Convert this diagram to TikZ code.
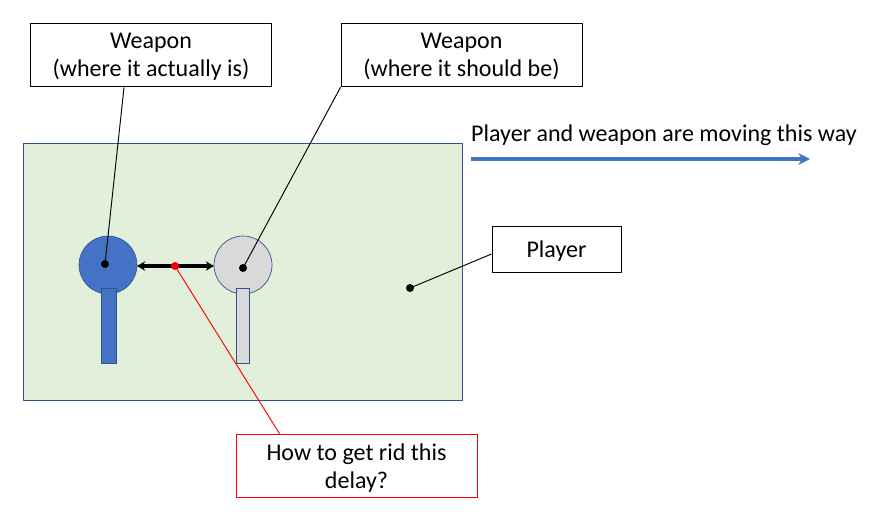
\documentclass[tikz,border=0pt]{standalone}
\usepackage{fontspec}
\setmainfont{Carlito}
\usetikzlibrary{arrows.meta}
\definecolor{bodygreen}{RGB}{226,239,218}
\definecolor{edgeblue}{RGB}{47,82,143}
\definecolor{weaponblue}{RGB}{68,114,196}
\definecolor{ghostgray}{RGB}{217,217,217}
\tikzset{
	labelbox/.style={draw=black,fill=white,line width=0.8pt,minimum width=7.23cm,minimum height=1.91cm,align=center,inner sep=0pt,text depth=0pt},
	marker/.style={circle,fill=#1,inner sep=0pt,minimum size=0.24cm},
	marker/.default=black
}
\begin{document}
\begin{tikzpicture}[x=0.03cm,y=-0.03cm,font=\fontsize{20.5pt}{23.5pt}\selectfont,line join=round,>=stealth]
			\useasboundingbox (0,0) rectangle (881,522);
			
			% player body
			\draw[edgeblue,fill=bodygreen,line width=0.7pt] (23,143) rectangle (462,400);
			
			% weapon, actual and expected place
			\draw[edgeblue,fill=weaponblue,line width=0.5pt] (108,265) circle (29);
			\draw[edgeblue,fill=weaponblue,line width=0.8pt] (101,288) rectangle (116,363);
			\draw[edgeblue,fill=ghostgray,line width=0.6pt] (243,265) circle (29);
			\draw[edgeblue,fill=ghostgray,line width=0.8pt] (236,288) rectangle (249,363);
			
			\node[marker] (actual) at (105,264) {};
			\node[marker] (expected) at (243,268) {};
			\node[marker] (body) at (410,288) {};
			
			\coordinate (gapL) at (137,266);
			\coordinate (gapR) at (214,266);
			\coordinate (moveL) at (471,159);
			\coordinate (moveR) at (810,159);
			
			\node[labelbox] (actualbox) at (151,55) {Weapon\\(where it actually is)};
			\node[labelbox] (expectedbox) at (461.5,55) {Weapon\\(where it should be)};
			\node[labelbox,minimum width=3.87cm,minimum height=1.38cm] (playerbox) at (556.5,249) {Player};
			\node[labelbox,draw=red] (delaybox) at (356.5,466) {How to get rid this\\delay?};
			\node[anchor=west,inner sep=0pt] (movetext) at (471,135) {Player and weapon are moving this way};
			
			\draw[line width=0.8pt] (actualbox.south west) ++(94,0) -- (actual.center);
			\draw[line width=0.8pt] (expectedbox.south west) -- (expected.center);
			\draw[line width=0.8pt] (playerbox.west) ++(0,5) -- (body.center);
			
			\draw[<->,line width=2.6pt,>={Stealth[length=7pt,width=8pt]}] (gapL) -- (gapR);
			\node[marker=red] (delay) at (175,266) {};
			\draw[red,line width=0.8pt] (delaybox.north west) ++(44,0) -- (delay.center);
			\draw[->,weaponblue,line width=3.4pt,>={Stealth[length=10pt,width=10pt]}] (moveL) -- (moveR);
		\end{tikzpicture}
\end{document}
